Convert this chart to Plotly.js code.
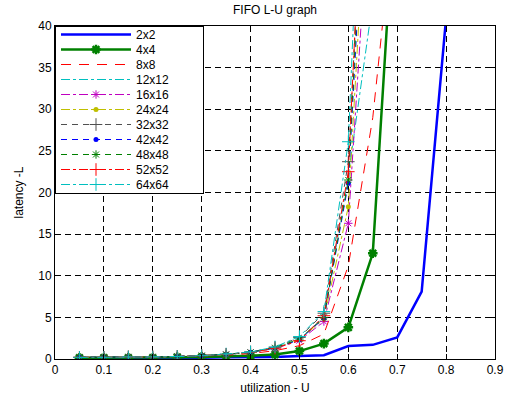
<!DOCTYPE html>
<html>
<head>
<meta charset="utf-8">
<script src="https://cdn.plot.ly/plotly-3.0.1.min.js"></script>
<style>html,body{margin:0;padding:0;background:#fff;}#chart{width:506px;height:400px;}</style>
</head>
<body>
<div id="chart"></div>
<script>
// utilization values (x)
const utilization = [0.05,0.1,0.15,0.2,0.25,0.3,0.35,0.4,0.45,0.5,0.55,0.6,0.65,0.7,0.75,0.8];
// latency per mesh size (y)
const lat2x2   = [0.1,0.1,0.1,0.1,0.15,0.15,0.2,0.2,0.25,0.35,0.45,1.55,1.7,2.6,8.1,41];
const lat4x4   = [0.15,0.15,0.15,0.15,0.2,0.25,0.3,0.4,0.55,0.95,1.85,3.8,12.7,60];
const lat8x8   = [0.2,0.2,0.2,0.25,0.3,0.35,0.45,0.65,1.0,1.6,3.0,11.2,29,57];
const lat12x12 = [0.2,0.2,0.25,0.25,0.3,0.4,0.55,0.8,1.3,2.4,5.0,22,43];
const lat16x16 = [0.2,0.2,0.25,0.25,0.3,0.4,0.55,0.8,1.25,2.2,4.5,16.3,62];
const lat24x24 = [0.2,0.2,0.25,0.25,0.3,0.4,0.55,0.8,1.3,2.3,4.8,18.3,70];
const lat32x32 = [0.2,0.2,0.25,0.25,0.3,0.4,0.55,0.85,1.4,2.6,5.5,23.7,80];
const lat42x42 = [0.2,0.2,0.25,0.25,0.3,0.4,0.55,0.8,1.3,2.3,4.9,21.1,75];
const lat48x48 = [0.2,0.2,0.25,0.25,0.3,0.4,0.55,0.8,1.35,2.4,5.0,21.5,80];
const lat52x52 = [0.2,0.2,0.25,0.25,0.3,0.4,0.55,0.8,1.3,2.2,5.2,22.5,85];
const lat64x64 = [0.2,0.2,0.25,0.25,0.3,0.4,0.6,0.85,1.45,2.7,5.7,26.1,95];
const seriesNames = ['2x2','4x4','8x8','12x12','16x16','24x24','32x32','42x42','48x48','52x52','64x64'];
const xTicks = [0,0.1,0.2,0.3,0.4,0.5,0.6,0.7,0.8,0.9];
const yTicks = [0,5,10,15,20,25,30,35,40];

const seriesData = [lat2x2,lat4x4,lat8x8,lat12x12,lat16x16,lat24x24,lat32x32,lat42x42,lat48x48,lat52x52,lat64x64];
const styles = [
  {color:'#0000ff', width:2.5, dash:'solid', mode:'lines'},
  {color:'#008000', width:2.5, dash:'solid', mode:'lines+markers', symbol:'asterisk-open', size:8, mlw:2.5},
  {color:'#ff0000', width:1, dash:'10px,8px', mode:'lines'},
  {color:'#00bfbf', width:1, dash:'dashdot', mode:'lines'},
  {color:'#bf00bf', width:1, dash:'dashdot', mode:'lines+markers', symbol:'asterisk-open', size:7, mlw:1},
  {color:'#bfbf00', width:1, dash:'dashdot', mode:'lines+markers', symbol:'circle', size:5, mlw:0},
  {color:'#505050', width:1, dash:'6px,5px', mode:'lines+markers', symbol:'cross-thin-open', size:9, mlw:1},
  {color:'#0000ff', width:1, dash:'6px,5px', mode:'lines+markers', symbol:'circle', size:5, mlw:0},
  {color:'#008000', width:1, dash:'6px,5px', mode:'lines+markers', symbol:'asterisk-open', size:7, mlw:1},
  {color:'#ff0000', width:1, dash:'dashdot', mode:'lines+markers', symbol:'cross-thin-open', size:9, mlw:1},
  {color:'#00bfbf', width:1, dash:'dashdot', mode:'lines+markers', symbol:'cross-thin-open', size:9, mlw:1}
];

const traces = seriesData.map((ys, i) => {
  const s = styles[i];
  const t = {
    type:'scatter', x: utilization.slice(0, ys.length), y: ys, name: seriesNames[i],
    mode: s.mode, line:{color:s.color, width:s.width, dash:s.dash}
  };
  if (s.symbol) t.marker = {symbol:s.symbol, size:s.size, color:s.color, line:{color:s.color, width:s.mlw}};
  return t;
});

const font = 'Liberation Sans, Arial, sans-serif';
const axisCommon = {
  showline:true, mirror:'allticks', linecolor:'#000', linewidth:1,
  ticks:'inside', ticklen:5, tickcolor:'#000', tickwidth:1,
  showgrid:true, gridcolor:'#000', gridwidth:1, griddash:'6px,4px',
  zeroline:false, tickfont:{family:font, size:12, color:'#000'}
};
const layout = {
  width:506, height:400,
  margin:{l:55, r:11, t:26, b:41},
  paper_bgcolor:'#fff', plot_bgcolor:'#fff',
  font:{family:font, color:'#000'},
  title:{text:'FIFO L-U graph', font:{family:font, size:12, color:'#000'}, x:0.5, xref:'paper', y:0.975, yref:'container', yanchor:'middle'},
  xaxis: Object.assign({}, axisCommon, {range:[0,0.9], tickvals:xTicks, ticktext:xTicks.map(String),
    title:{text:'utilization - U', font:{family:font, size:12, color:'#000'}, standoff:7}}),
  yaxis: Object.assign({}, axisCommon, {range:[0,40], tickvals:yTicks, ticktext:yTicks.map(String),
    title:{text:'latency -L', font:{family:font, size:12, color:'#000'}, standoff:12}}),
  showlegend:true,
  legend:{x:0, y:1, xanchor:'left', yanchor:'top', bgcolor:'#fff', bordercolor:'#000', borderwidth:1,
    font:{family:font, size:12, color:'#000'}, itemwidth:70, tracegroupgap:0},
};

Plotly.newPlot('chart', traces, layout, {staticPlot:true}).then(gd => {
  const leg = gd.querySelector('.legend');
  if (!leg) return;
  const items = leg.querySelectorAll('.traces');
  const step = 15;
  items.forEach((t, i) => {
    const m = /translate\(([^,\s]+)[,\s]+([^)]+)\)/.exec(t.getAttribute('transform') || '');
    const x = m ? parseFloat(m[1]) : 0;
    t.setAttribute('transform', 'translate(' + x + ',' + (8.5 + i * step) + ')');
  });
  const bg = leg.querySelector('rect.bg');
  if (bg) {
    bg.setAttribute('height', 8 + (items.length - 1) * step + 9);
    bg.setAttribute('width', 148);
  }
  const clip = document.querySelectorAll('clipPath rect');
  clip.forEach(r => { if (parseFloat(r.getAttribute('width')) < 200 && parseFloat(r.getAttribute('height')) > 150) r.setAttribute('width', 150); });
});
</script>
</body>
</html>
